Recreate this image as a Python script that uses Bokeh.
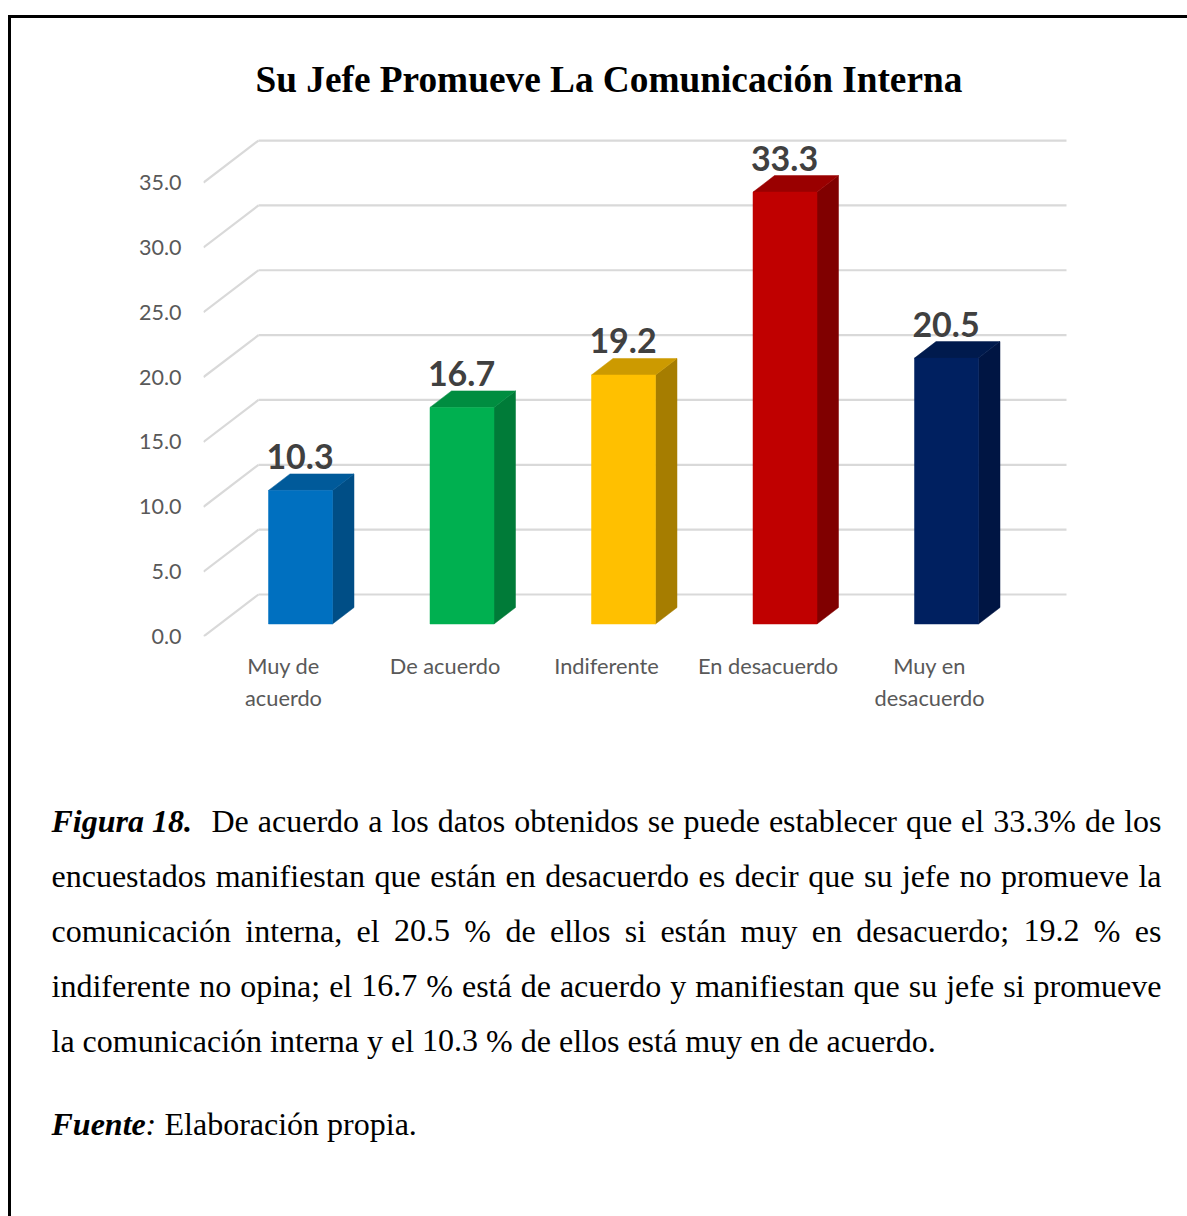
from bokeh.plotting import figure
from bokeh.embed import file_html
from bokeh.resources import INLINE
from bokeh.layouts import column
from bokeh.models import (Range1d, LinearAxis, FixedTicker, NumeralTickFormatter,
                          ColumnDataSource, Title)
from bokeh.core.properties import value

categories = ["Muy de acuerdo", "De acuerdo", "Indiferente", "En desacuerdo", "Muy en desacuerdo"]
tick_text = ["Muy de\nacuerdo", "De acuerdo", "Indiferente", "En desacuerdo", "Muy en\ndesacuerdo"]
values = [10.3, 16.7, 19.2, 33.3, 20.5]
front_colors = ["#0070C0", "#00B050", "#FFC000", "#C00000", "#002060"]
top_colors = ["#005A9A", "#008D40", "#CC9A00", "#9A0000", "#001A4D"]
side_colors = ["#004E86", "#007B38", "#A67D00", "#800000", "#001543"]
y_ticks = [0, 5, 10, 15, 20, 25, 30, 35]
title_text = "Su Jefe Promueve La Comunicación Interna"

caption_lines = [
    ["De", "acuerdo", "a", "los", "datos", "obtenidos", "se", "puede", "establecer", "que", "el", "33.3%", "de", "los"],
    ["encuestados", "manifiestan", "que", "están", "en", "desacuerdo", "es", "decir", "que", "su", "jefe", "no", "promueve", "la"],
    ["comunicación", "interna,", "el", "20.5", "%", "de", "ellos", "si", "están", "muy", "en", "desacuerdo;", "19.2", "%", "es"],
    ["indiferente", "no", "opina;", "el", "16.7", "%", "está", "de", "acuerdo", "y", "manifiestan", "que", "su", "jefe", "si", "promueve"],
    ["la", "comunicación", "interna", "y", "el", "10.3", "%", "de", "ellos", "está", "muy", "en", "de", "acuerdo."],
]

# page geometry, in pixels of the reference
PAGE_W, PAGE_H = 1187, 1216
X0, Y0 = 11, 18                        # inner corner of the page border
YSPLIT = 740                           # where the chart ends and the caption begins
W = PAGE_W - X0
FL, FR, FT, FB = 203, 1067, 135, 636   # plot frame
UX, UY = 161.5, 12.97                  # pixels per category / per value unit
CX0 = 283                              # first category centre at the front of the floor

def dx(px):
    return (px - CX0) / UX

def dy(py):
    return (FB - py) / UY

p = figure(width=W, height=YSPLIT - Y0, output_backend="svg", toolbar_location=None,
           x_range=Range1d(dx(FL), dx(FR)),
           y_range=Range1d(0, dy(FT)),
           min_border_left=FL - X0, min_border_right=PAGE_W - FR,
           min_border_top=FT - Y0, min_border_bottom=YSPLIT - FB,
           x_axis_type=None, y_axis_type=None, outline_line_color=None, frame_align=False)
p.grid.visible = False

p.title = Title(text=title_text, text_font="Liberation Serif", text_font_size="37.3px",
                text_font_style="bold", text_color="#000000", align="left",
                offset=255 - FL, standoff=71)

# axes
xax = LinearAxis(ticker=FixedTicker(ticks=list(range(len(tick_text)))),
                 major_label_overrides={i: t for i, t in enumerate(tick_text)},
                 axis_line_color=None, major_tick_line_color=None, minor_tick_line_color=None,
                 major_label_text_font="Lato", major_label_text_font_size="21.8px",
                 major_label_text_color="#595959", major_label_standoff=9)
p.add_layout(xax, "below")
yax = LinearAxis(ticker=FixedTicker(ticks=y_ticks), formatter=NumeralTickFormatter(format="0.0"),
                 axis_line_color=None, major_tick_line_color=None, minor_tick_line_color=None,
                 major_label_text_font="Lato", major_label_text_font_size="21.5px",
                 major_label_text_color="#595959", major_label_standoff=16)
p.add_layout(yax, "left")

# 3-D walls: gridlines along the back wall and diagonals across the side wall
WX, WY = 55 / UX, 42 / UY
x_left = dx(203)
x_right = dx(1066)
p.segment(x0=[x_left] * len(y_ticks), y0=y_ticks, x1=[x_left + WX] * len(y_ticks),
          y1=[t + WY for t in y_ticks], line_color="#D9D9D9", line_width=2.2)
p.segment(x0=[x_left + WX] * len(y_ticks), y0=[t + WY for t in y_ticks],
          x1=[x_right] * len(y_ticks), y1=[t + WY for t in y_ticks],
          line_color="#D9D9D9", line_width=2.2)

# 3-D bars
FDY = (FB - 623.5) / UY            # lift of the bar's foot on the floor
BW = 64 / UX                       # front face width
DX, DY = 21.5 / UX, 16.5 / UY      # bar depth
centers = [i + 17 / UX for i in range(len(values))]
for c, v, fc, tc, sc in zip(centers, values, front_colors, top_colors, side_colors):
    l, r = c - BW / 2, c + BW / 2
    b, t = FDY, FDY + v
    p.patch([r, r + DX, r + DX, r], [b, b + DY, t + DY, t], fill_color=sc, line_color=sc, line_width=0.5)
    p.patch([l, r, r + DX, l + DX], [t, t, t + DY, t + DY], fill_color=tc, line_color=tc, line_width=0.5)
    p.quad(left=l, right=r, bottom=b, top=t, fill_color=fc, line_color=fc, line_width=0.5)

src = ColumnDataSource(dict(x=centers, y=[v + FDY for v in values], t=[f"{v:.1f}" for v in values]))
p.text(x="x", y="y", text="t", source=src, text_font=value("Lato"), text_font_style="bold",
       text_font_size="34px", text_color="#404040", text_align="center",
       text_baseline="alphabetic", y_offset=-34, x_offset=-0.5)

# caption: a second figure whose scale is the page itself
cap = figure(width=W, height=PAGE_H - YSPLIT, output_backend="svg", toolbar_location=None,
             x_range=Range1d(X0, PAGE_W), y_range=Range1d(PAGE_H, YSPLIT),
             min_border=0, x_axis_type=None, y_axis_type=None, outline_line_color=None,
             frame_align=False)
cap.grid.visible = False

CW = dict(a=444, b=500, c=444, d=500, e=444, f=333, g=500, h=500, i=278, j=278, k=500, l=278, m=778,
          n=500, o=500, p=500, q=500, r=333, s=389, t=278, u=500, v=500, w=722, x=500, y=500, z=444,
          D=722, E=611)
CW.update({"á": 444, "é": 444, "ó": 500, ".": 250, ",": 250, ";": 278, "%": 833})
CW.update({str(d): 500 for d in range(10)})
FS = 32

def word_w(w):
    return sum(CW[c] for c in w) * FS / 1000

def put(xs, ys, texts, style="normal"):
    cap.text(x=xs, y=ys, text=texts, text_font=value("Liberation Serif"), text_font_size=f"{FS}px",
             text_font_style=style, text_color="#000000", text_align="left",
             text_baseline="alphabetic")

LEFT, RIGHT = 51, 1161
bases = [820, 875, 930, 985, 1040]
put([LEFT], [bases[0]], ["Figura 18."], "bold italic")
xs, ys, ts = [], [], []
for n, (words, base) in enumerate(zip(caption_lines, bases)):
    start = 211 if n == 0 else LEFT
    total = sum(word_w(w) for w in words)
    gap = (RIGHT - start - total) / (len(words) - 1) if n < 4 else 0.25 * FS
    x = start
    for w in words:
        xs.append(x); ys.append(base); ts.append(w)
        x += word_w(w) + gap
put(xs, ys, ts)

put([LEFT], [1123], ["Fuente"], "bold italic")
put([145], [1123], [":"], "italic")
put([164], [1123], ["Elaboración propia."])

page = column(p, cap, spacing=0, margin=(15, 0, 0, 8),
              styles={"border-top": "3px solid #000000", "border-left": "3px solid #000000"})

open("out.html", "w").write(file_html(page, INLINE))
